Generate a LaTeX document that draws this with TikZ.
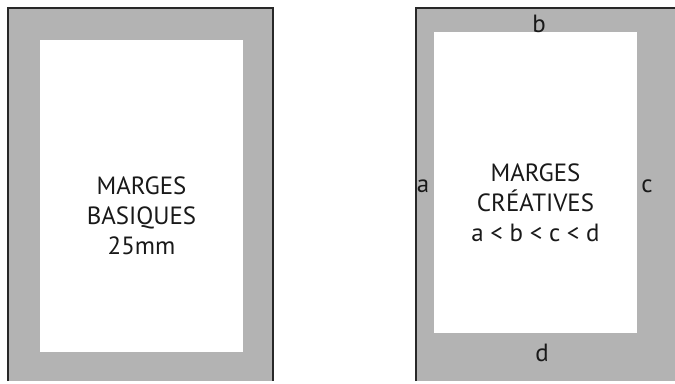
\documentclass[tikz,border=0pt]{standalone}
\usepackage{fontspec}
\setmainfont{PT Sans}
\definecolor{margin}{RGB}{179,179,179}
\definecolor{edge}{RGB}{40,40,40}
\begin{document}
\begin{tikzpicture}[x=1bp,y=-1bp,
  pagefill/.style={fill=margin},
  pageedge/.style={draw=edge,line width=2bp},
  textarea/.style={fill=white},
  bigtext/.style={font=\fontsize{25}{30}\selectfont,align=center,inner sep=0pt,text=black!90},
  lbl/.style={font=\fontsize{25}{30}\selectfont,inner sep=0pt,anchor=base,text=black!90}]
\useasboundingbox (0,0) rectangle (675,383);
% left page
\fill[pagefill] (8,8) rectangle (273,381);
\draw[pageedge] (8,381) -- (8,8) -- (273,8) -- (273,381);
\fill[textarea] (40,40) rectangle (243,352);
\node[bigtext] (basic) at (141.5,216) {MARGES\\BASIQUES\\25mm};
% right page
\fill[pagefill] (416,8) rectangle (675,381);
\draw[pageedge] (416,381) -- (416,8) -- (675,8);
\fill[textarea] (434,32) rectangle (637,333);
\node[bigtext] (creative) at (535.5,203) {MARGES\\CRÉATIVES\\a < b < c < d};
\node[lbl] (la) at (423,192) {a};
\node[lbl] (lb) at (539,32) {b};
\node[lbl] (lc) at (647,192) {c};
\node[lbl] (ld) at (542,361) {d};
\end{tikzpicture}
\end{document}
